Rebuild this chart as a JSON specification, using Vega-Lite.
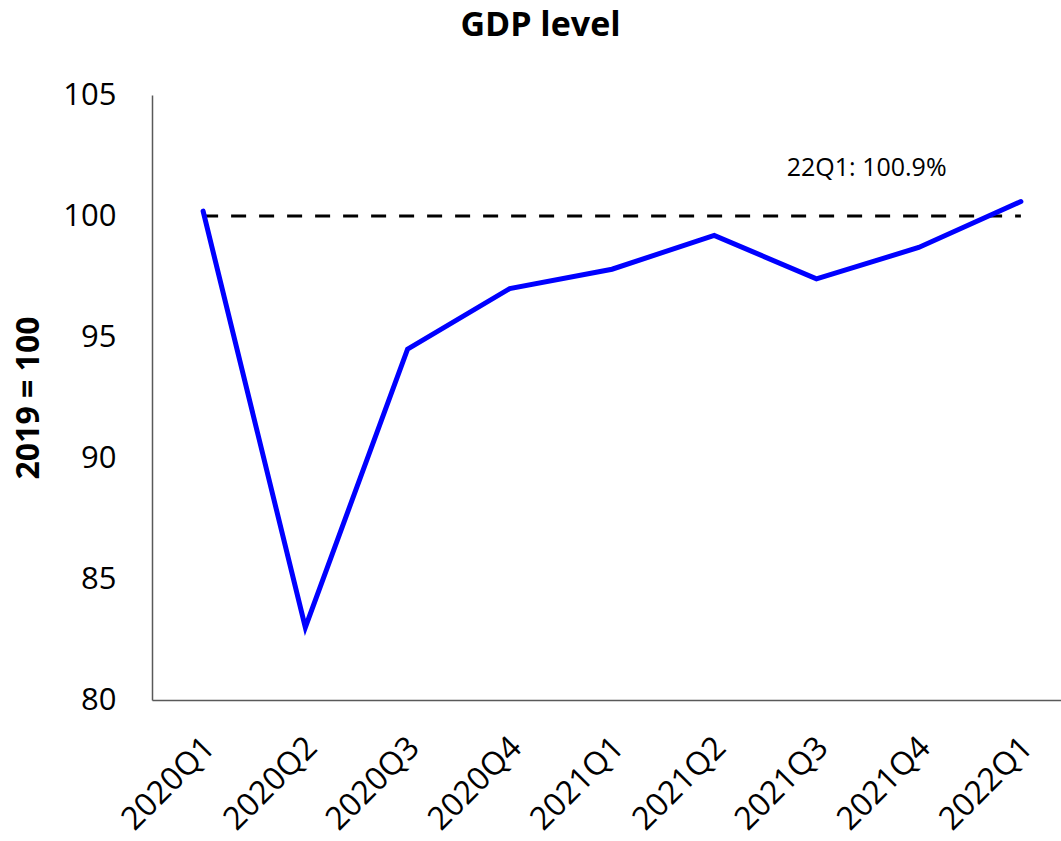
{
  "$schema": "https://vega.github.io/schema/vega-lite/v6.json",
  "autosize": "none",
  "width": 909,
  "height": 605,
  "padding": {"left": 152, "top": 95, "right": 0, "bottom": 141},
  "background": "white",
  "config": {
    "font": "Open Sans",
    "view": {"stroke": null}
  },
  "title": {
    "text": "GDP level",
    "font": "Open Sans",
    "fontSize": 34,
    "fontWeight": "bold",
    "color": "black",
    "anchor": "middle",
    "frame": "group",
    "dx": -66,
    "offset": 36
  },
  "datasets": {
    "gdp": [
      {"quarter": "2020Q1", "level": 100.2},
      {"quarter": "2020Q2", "level": 83.0},
      {"quarter": "2020Q3", "level": 94.5},
      {"quarter": "2020Q4", "level": 97.0},
      {"quarter": "2021Q1", "level": 97.8},
      {"quarter": "2021Q2", "level": 99.2},
      {"quarter": "2021Q3", "level": 97.4},
      {"quarter": "2021Q4", "level": 98.7},
      {"quarter": "2022Q1", "level": 100.6}
    ],
    "ref": [{"start": "2020Q1", "end": "2022Q1", "level": 100}],
    "note": [{"quarter": "2021Q4", "level": 102.0, "label": "22Q1: 100.9%"}]
  },
  "layer": [
    {
      "data": {"name": "ref"},
      "mark": {"type": "rule", "color": "black", "strokeWidth": 3, "strokeDash": [15, 13]},
      "encoding": {
        "x": {"field": "start", "type": "ordinal"},
        "x2": {"field": "end"},
        "y": {"field": "level", "type": "quantitative"}
      }
    },
    {
      "data": {"name": "gdp"},
      "mark": {"type": "line", "color": "#0000FF", "strokeWidth": 5, "strokeCap": "round", "strokeJoin": "miter"},
      "encoding": {
        "x": {
          "field": "quarter",
          "type": "ordinal",
          "sort": null,
          "scale": {"type": "point", "domain": ["2020Q1","2020Q2","2020Q3","2020Q4","2021Q1","2021Q2","2021Q3","2021Q4","2022Q1"], "range": [0, 920], "padding": 0.5},
          "axis": {
            "title": null,
            "domainColor": "#595959",
            "domainWidth": 1.5,
            "ticks": false,
            "labelAngle": -45,
            "labelAlign": "right",
            "labelBaseline": "middle",
            "labelFont": "Open Sans",
            "labelFontSize": 32,
            "labelColor": "black",
            "labelPadding": 42,
            "labelOffset": 6,
            "grid": false
          }
        },
        "y": {
          "field": "level",
          "type": "quantitative",
          "scale": {"domain": [80, 105], "nice": false, "zero": false},
          "axis": {
            "title": "2019 = 100",
            "titleFont": "Open Sans",
            "titleFontSize": 32,
            "titleFontWeight": "bold",
            "titleColor": "black",
            "titlePadding": 17,
            "values": [80, 85, 90, 95, 100, 105],
            "domainColor": "#595959",
            "domainWidth": 1.5,
            "ticks": false,
            "grid": false,
            "labelFont": "Open Sans",
            "labelFontSize": 31,
            "labelColor": "black",
            "labelPadding": 36
          }
        }
      }
    },
    {
      "data": {"name": "note"},
      "mark": {"type": "text", "font": "Open Sans", "fontSize": 25, "color": "black", "dx": -52, "align": "center", "baseline": "middle"},
      "encoding": {
        "x": {"field": "quarter", "type": "ordinal"},
        "y": {"field": "level", "type": "quantitative"},
        "text": {"field": "label"}
      }
    }
  ]
}
